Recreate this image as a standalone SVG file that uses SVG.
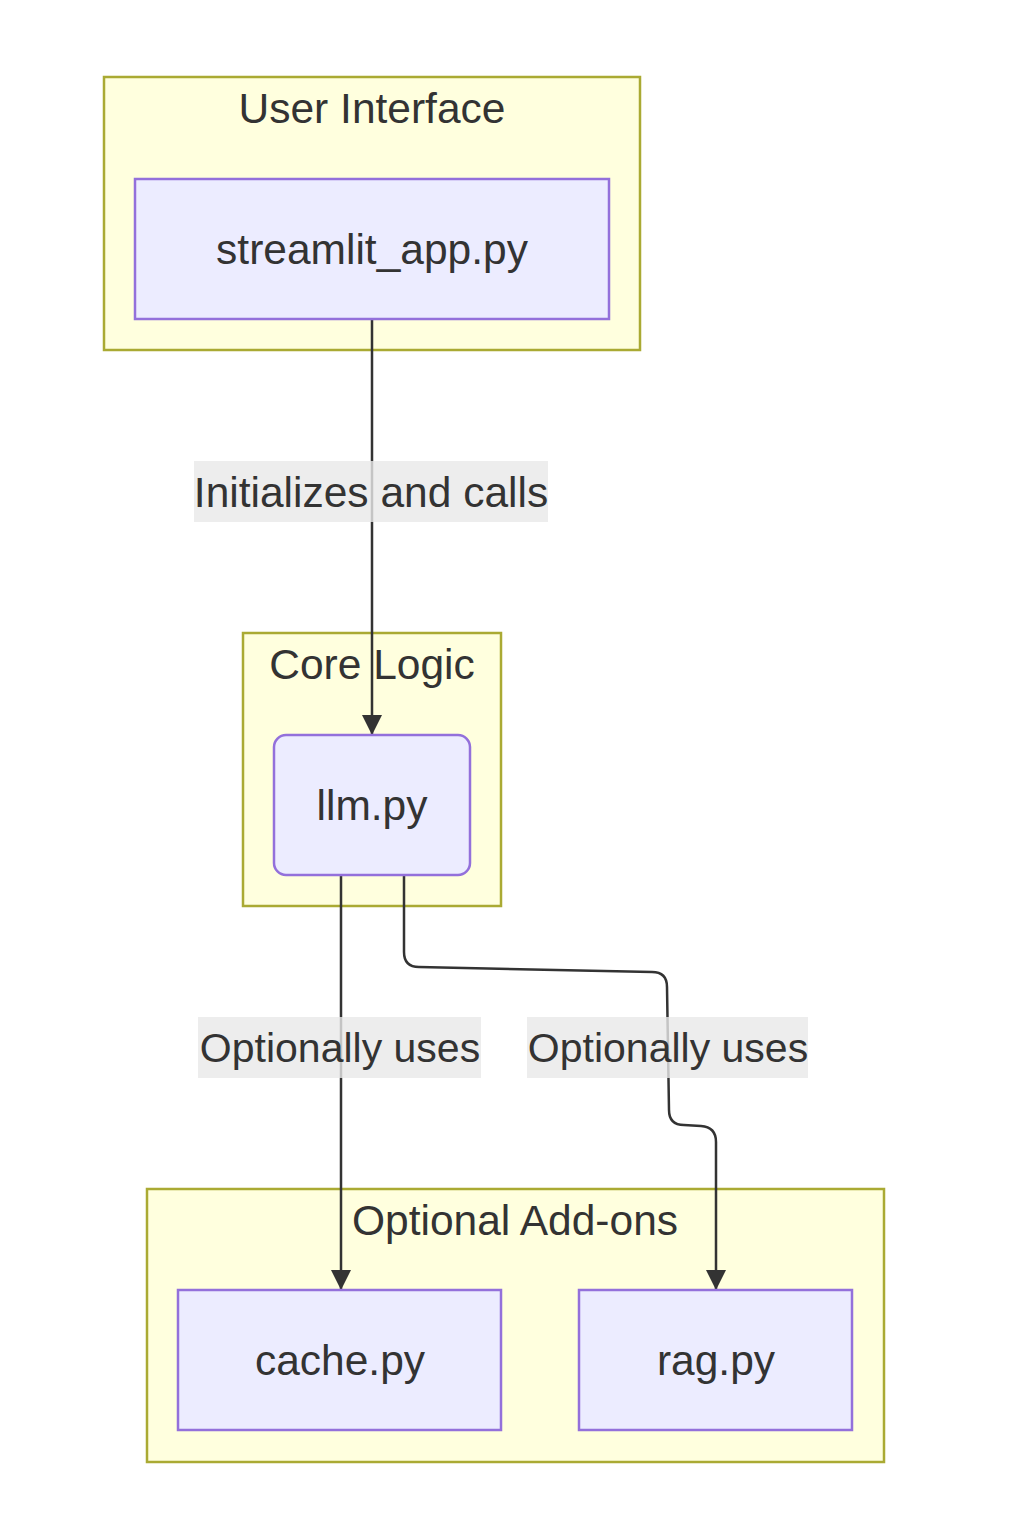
<svg xmlns="http://www.w3.org/2000/svg" width="1028" height="1530" viewBox="0 0 1028 1530">
<style>
text{font-family:"Liberation Sans",Arial,sans-serif;font-size:42.5px;fill:#333;text-anchor:middle;dominant-baseline:central}
text.sm{font-size:41px}
.cluster{fill:#ffffde;stroke:#aaaa33;stroke-width:2.5}
.node{fill:#ececff;stroke:#9370db;stroke-width:2.5}
.edge{fill:none;stroke:#333;stroke-width:2.5}
.lbl{fill:#e8e8e8;fill-opacity:0.8}
</style>
<defs>
<marker id="arr" viewBox="0 0 10 10" refX="10" refY="5" markerUnits="userSpaceOnUse" markerWidth="20" markerHeight="20" orient="auto">
<path d="M0,0 L10,5 L0,10 z" fill="#333"/>
</marker>
</defs>
<rect width="1028" height="1530" fill="#fff"/>
<g id="cluster-ui">
<rect class="cluster" x="104" y="77" width="536" height="273"/>
<text x="372" y="108">User Interface</text>
</g>
<g id="cluster-core">
<rect class="cluster" x="243" y="633" width="258" height="273"/>
<text x="372" y="664">Core Logic</text>
</g>
<g id="cluster-addons">
<rect class="cluster" x="147" y="1189" width="737" height="273"/>
<text x="515" y="1220">Optional Add-ons</text>
</g>
<g id="edges">
<path class="edge" d="M372,319 L372,735" marker-end="url(#arr)"/>
<path class="edge" d="M341,875 L341,1290" marker-end="url(#arr)"/>
<path class="edge" d="M404,875 L404,952 Q404,967 419,967 L652,972 Q667,972 667,987 L669,1110 Q669,1125 684,1125 L701,1126 Q716,1127 716,1142 L716,1290" marker-end="url(#arr)"/>
<rect class="lbl" x="194" y="461" width="354" height="61"/>
<text x="371" y="492">Initializes and calls</text>
<rect class="lbl" x="198" y="1017" width="283" height="61"/>
<text class="sm" x="340" y="1048">Optionally uses</text>
<rect class="lbl" x="527" y="1017" width="281" height="61"/>
<text class="sm" x="668" y="1048">Optionally uses</text>
</g>
<g id="node-streamlit">
<rect class="node" x="135" y="179" width="474" height="140"/>
<text x="372" y="249">streamlit_app.py</text>
</g>
<g id="node-llm">
<rect class="node" x="274" y="735" width="196" height="140" rx="12" ry="12"/>
<text x="372" y="805">llm.py</text>
</g>
<g id="node-cache">
<rect class="node" x="178" y="1290" width="323" height="140"/>
<text x="340" y="1360">cache.py</text>
</g>
<g id="node-rag">
<rect class="node" x="579" y="1290" width="273" height="140"/>
<text x="716" y="1360">rag.py</text>
</g>
</svg>
